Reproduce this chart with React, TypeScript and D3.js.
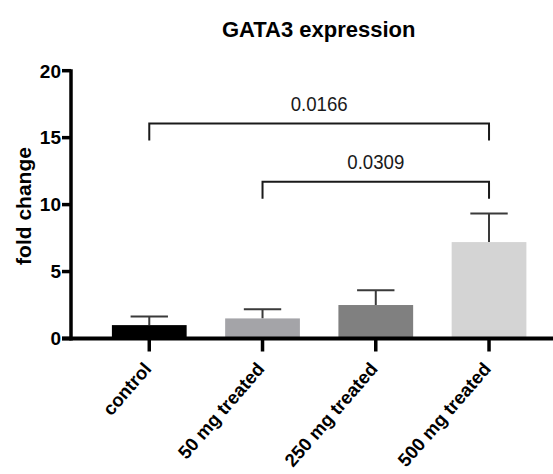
import React from "react";
import * as d3 from "d3";

const categories = ["control", "50 mg treated", "250 mg treated", "500 mg treated"];
const means = [1.0, 1.5, 2.5, 7.2];
const errors = [0.64, 0.68, 1.1, 2.13];
const barColors = ["#000000", "#a4a4a8", "#808080", "#d4d4d4"];
const yTicks = [0, 5, 10, 15, 20];
const comparisons = [
  { from: 0, to: 3, level: 16.05, label: "0.0166" },
  { from: 1, to: 3, level: 11.7, label: "0.0309" },
];

const W = 553;
const H = 474;
const FONT = "'Liberation Sans', Arial, Helvetica, sans-serif";

export default function App() {
  const x = d3
    .scaleBand<string>()
    .domain(categories)
    .range([92.65, 545.65])
    .paddingInner(0.34)
    .paddingOuter(0.17);
  const y = d3.scaleLinear().domain([0, 20]).range([338.5, 70.7]);
  const cx = (c: string) => (x(c) as number) + x.bandwidth() / 2;
  const axisX = 71;
  const axisY = y(0);
  const capHalf = x.bandwidth() / 4;

  return (
    <svg
      width={W}
      height={H}
      style={{ position: "absolute", left: 0, top: 0, background: "#fff" }}
      fontFamily={FONT}
    >
      <rect width={W} height={H} fill="#fff" />
      <text x={318.7} y={36.5} textAnchor="middle" fontSize={22} fontWeight="bold" fill="#000">
        GATA3 expression
      </text>

      {/* bars */}
      {categories.map((c, i) => (
        <g key={c}>
          <line
            x1={cx(c)}
            x2={cx(c)}
            y1={y(means[i])}
            y2={y(means[i] + errors[i])}
            stroke="#3a3a3a"
            strokeWidth={2}
          />
          <line
            x1={cx(c) - capHalf}
            x2={cx(c) + capHalf}
            y1={y(means[i] + errors[i])}
            y2={y(means[i] + errors[i])}
            stroke="#3a3a3a"
            strokeWidth={2}
          />
          <rect
            x={x(c)}
            y={y(means[i])}
            width={x.bandwidth()}
            height={axisY - y(means[i])}
            fill={barColors[i]}
          />
        </g>
      ))}

      {/* y axis */}
      <line x1={axisX} x2={axisX} y1={y(20) - 1.5} y2={axisY + 2} stroke="#000" strokeWidth={3.5} />
      {yTicks.map((t) => (
        <g key={t}>
          <line x1={axisX - 9} x2={axisX} y1={y(t)} y2={y(t)} stroke="#000" strokeWidth={3.5} />
          <text
            x={61}
            y={y(t)}
            dy="0.36em"
            textAnchor="end"
            fontSize={19}
            fontWeight="bold"
            fill="#000"
          >
            {t}
          </text>
        </g>
      ))}
      <text
        transform={`translate(30.5, 206) rotate(-90)`}
        textAnchor="middle"
        fontSize={21}
        fontWeight="bold"
        fill="#000"
      >
        fold change
      </text>

      {/* x axis */}
      <line x1={axisX - 9} x2={W} y1={axisY} y2={axisY} stroke="#000" strokeWidth={4} />
      {categories.map((c) => (
        <g key={c}>
          <line x1={cx(c)} x2={cx(c)} y1={axisY} y2={axisY + 13} stroke="#000" strokeWidth={3.5} />
          <text
            transform={`translate(${cx(c) + 3}, ${axisY + 31}) rotate(-49)`}
            textAnchor="end"
            fontSize={18.5}
            fontWeight="bold"
            fill="#000"
          >
            {c}
          </text>
        </g>
      ))}

      {/* comparison brackets */}
      {comparisons.map((cmp) => {
        const x1 = cx(categories[cmp.from]);
        const x2 = cx(categories[cmp.to]);
        const yy = y(cmp.level);
        return (
          <g key={cmp.label}>
            <path
              d={`M${x1},${yy + 17} V${yy} H${x2} V${yy + 17}`}
              fill="none"
              stroke="#1a1a1a"
              strokeWidth={2}
            />
            <text
              x={(x1 + x2) / 2}
              y={yy - 13}
              textAnchor="middle"
              fontSize={21}
              textLength={57}
              lengthAdjust="spacingAndGlyphs"
              fill="#1a1a1a"
            >
              {cmp.label}
            </text>
          </g>
        );
      })}
    </svg>
  );
}
